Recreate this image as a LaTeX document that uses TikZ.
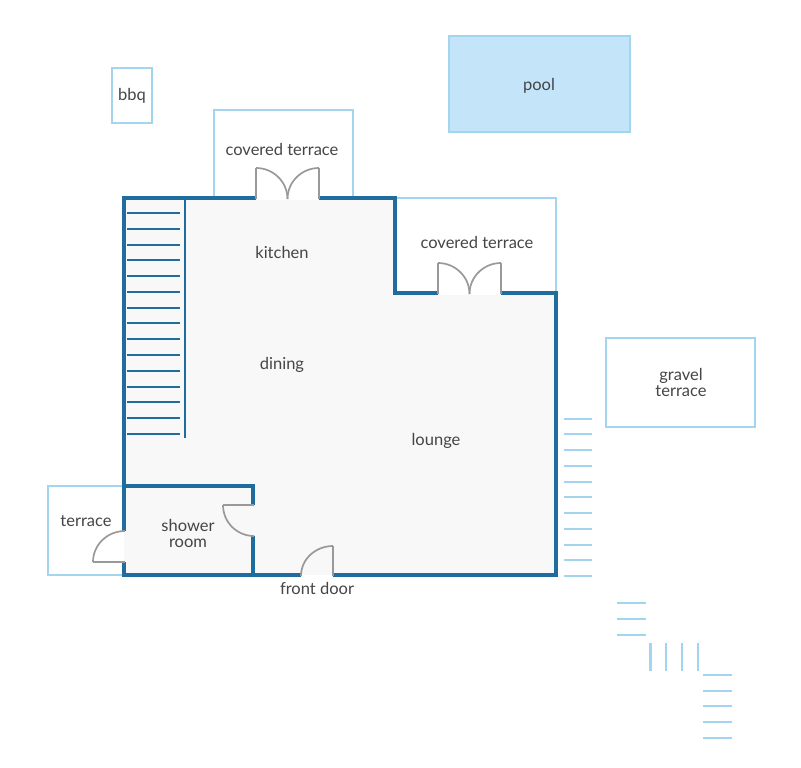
\documentclass[tikz,border=0pt]{standalone}
\usepackage{fontspec}
\setmainfont{Lato}
\usepackage{xcolor}
\definecolor{wallblue}{HTML}{1F6C9F}
\definecolor{skyline}{HTML}{A3D5EE}
\definecolor{poolfill}{HTML}{C3E4F9}
\definecolor{floorgrey}{HTML}{F8F8F8}
\definecolor{doorgrey}{HTML}{999999}
\definecolor{labelgrey}{HTML}{454548}
\tikzset{
    wall/.style={
        draw=wallblue,
        line width=3.6pt,
        line join=miter,
    },
    outside/.style={
        draw=skyline,
        line width=2.6pt,
    },
    stair/.style={
        draw=wallblue,
        line width=2.1pt,
    },
    outstep/.style={
        draw=skyline,
        line width=2.1pt,
    },
    door/.style={
        draw=doorgrey,
        line width=1.7pt,
    },
    doorpost/.style={
        draw=doorgrey,
        line width=2.8pt,
    },
    room/.style={
        text=labelgrey,
        font=\fontsize{16.5}{16}\selectfont,
        align=center,
    },
}
\begin{document}
\begin{tikzpicture}[x=1pt,y=-1pt]
      \useasboundingbox (0,0) rectangle (801,768);

      \fill [floorgrey] (124,198) -- (395,198) -- (395,293) -- (556,293) -- (556,575) -- (124,575) -- cycle;

      \draw [outside, fill=poolfill] (449,36) rectangle (630,132);
      \draw [outside] (112,68) rectangle (152,123);
      \draw [outside] (214,198) -- (214,110) -- (353,110) -- (353,198);
      \draw [outside] (395,198) -- (556,198) -- (556,293);
      \draw [outside] (606,338) rectangle (755,427);
      \draw [outside] (124,486) -- (48,486) -- (48,575) -- (124,575);

      \fill [white] (256,198) rectangle (319,200);
      \fill [white] (438,293) rectangle (501,295);

      \draw [wall] (256,198) -- (124,198) -- (124,531);
      \draw [wall] (124,562) -- (124,575) -- (301,575);
      \draw [wall] (319,198) -- (395,198) -- (395,293) -- (438,293);
      \draw [wall] (501,293) -- (556,293) -- (556,575) -- (333,575);
      \draw [wall] (124,486) -- (253,486) -- (253,505);
      \draw [wall] (253,536) -- (253,575);

      \draw [stair] (185,198) -- (185,438);
      \foreach \y in {213,229,245,260,276,292,308,323,339,355,371,387,402,418,434}
        \draw [stair] (127,\y) -- (180,\y);

      \foreach \y in {419,434,450,466,482,497,513,529,545,560,576}
        \draw [outstep] (564,\y) -- (592,\y);
      \foreach \y in {603,619,635}
        \draw [outstep] (617,\y) -- (646,\y);
      \foreach \x in {650.5,666,682,698}
        \draw [outstep] (\x,643) -- (\x,671);
      \foreach \y in {675,691,706,722,738}
        \draw [outstep] (703,\y) -- (732,\y);

      \draw [doorpost] (256,199) -- (256,168);
      \draw [door] (256,168) to [out=0,in=90] (287.5,199);
      \draw [doorpost] (319,199) -- (319,168);
      \draw [door] (319,168) to [out=180,in=90] (287.5,199);

      \draw [doorpost] (438,294) -- (438,263);
      \draw [door] (438,263) to [out=0,in=90] (469.5,294);
      \draw [doorpost] (501,294) -- (501,263);
      \draw [door] (501,263) to [out=180,in=90] (469.5,294);

      \draw [doorpost] (125,562) -- (93,562);
      \draw [door] (93,562) to [out=90,in=180] (125,531);
      \draw [doorpost] (254,505) -- (223,505);
      \draw [door] (223,505) to [out=-90,in=180] (254,536);
      \draw [doorpost] (333,576) -- (333,546);
      \draw [door] (333,546) to [out=180,in=90] (301,576);

      \node [room] (bbq) at (132,96) {bbq};
      \node [room] (pool) at (539,86) {pool};
      \node [room] (terraceA) at (282,149) {covered terrace};
      \node [room] (terraceB) at (477,242) {covered terrace};
      \node [room] (kitchen) at (282,252) {kitchen};
      \node [room] (dining) at (282,365) {dining};
      \node [room] (lounge) at (436,441) {lounge};
      \node [room] (gravel) at (681,382) {gravel\\terrace};
      \node [room] (terrace) at (86,521) {terrace};
      \node [room] (shower) at (188,533) {shower\\room};
      \node [room] (front) at (317,588) {front door};
    \end{tikzpicture}
\end{document}
